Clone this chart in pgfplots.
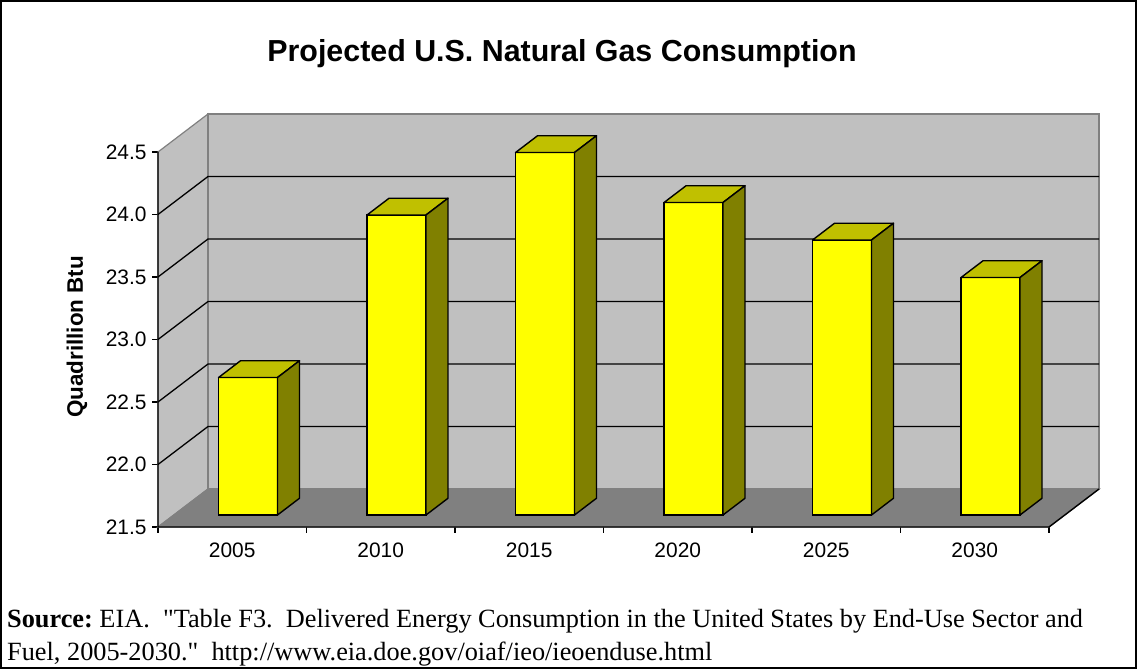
\documentclass[border=0pt]{standalone}
\usepackage{fontspec}
\setmainfont{Liberation Sans}
\newfontfamily\timesf{Liberation Serif}
\usepackage{pgfplots}
\pgfplotsset{compat=1.18}
\definecolor{wallgray}{HTML}{C0C0C0}
\definecolor{floorgray}{HTML}{808080}
\definecolor{edgegray}{HTML}{808080}
\definecolor{barfront}{HTML}{FFFF00}
\definecolor{bartop}{HTML}{C0C000}
\definecolor{barside}{HTML}{808000}
% 3D bar: #1 = category index (0..5), #2 = value
\newcommand\tdbar[2]{%
 \pgfmathsetmacro\xa{#1+0.5-0.1985+0.1063}%
 \pgfmathsetmacro\xb{\xa+0.397}%
 \pgfmathsetmacro\xc{\xb+0.148}%
 \pgfmathsetmacro\xd{\xa+0.148}%
 \pgfmathsetmacro\ya{21.596}%
 \pgfmathsetmacro\yb{#2+0.096}%
 \pgfmathsetmacro\yc{#2+0.096+0.134}%
 \pgfmathsetmacro\ye{21.596+0.134}%
 \edef\doit{%
  \noexpand\addplot[fill=barfront,draw=black,line width=1.4bp] coordinates {(\xa,\ya) (\xb,\ya) (\xb,\yb) (\xa,\yb)} -- cycle;
  \noexpand\addplot[fill=bartop,draw=black,line width=1.4bp,line join=round] coordinates {(\xa,\yb) (\xb,\yb) (\xc,\yc) (\xd,\yc)} -- cycle;
  \noexpand\addplot[fill=barside,draw=black,line width=1.4bp,line join=round] coordinates {(\xb,\ya) (\xc,\ye) (\xc,\yc) (\xb,\yb)} -- cycle;
 }\doit
}
\begin{document}
\begin{tikzpicture}
\useasboundingbox (0,0) rectangle (1137bp,669bp);
\draw[line width=2bp] (1bp,1bp) rectangle (1136bp,668bp);
\begin{axis}[
  at={(158bp,142bp)}, anchor=south west,
  scale only axis, width=941bp, height=413bp,
  xmin=0, xmax=6.3367, ymin=21.5, ymax=24.804,
  clip=false,
  axis line style={draw=none},
  tick pos=left, tick align=outside,
  major tick length=6bp,
  every tick/.style={black, line width=1.2bp},
  xtick={0,1,2,3,4,5,6}, xticklabels={},
  extra x ticks={0.5,1.5,2.5,3.5,4.5,5.5},
  extra x tick labels={2005,2010,2015,2020,2025,2030},
  extra x tick style={major tick length=0pt},
  ytick={21.5,22,22.5,23,23.5,24,24.5},
  yticklabels={21.5,22.0,22.5,23.0,23.5,24.0,24.5},
  ticklabel style={font=\fontsize{21}{21}\selectfont},
  xticklabel style={yshift=-12bp},
  yticklabel style={xshift=-2bp},
]
% left side wall
\addplot[fill=wallgray, draw=edgegray, line width=1.2bp] coordinates {(0,21.5) (0.3367,21.804) (0.3367,24.804) (0,24.5)} -- cycle;
% floor
\addplot[fill=floorgray, draw=edgegray, line width=1.2bp] coordinates {(0,21.5) (6,21.5) (6.3367,21.804) (0.3367,21.804)} -- cycle;
% back wall
\addplot[fill=wallgray, draw=edgegray, line width=1.2bp] coordinates {(0.3367,21.804) (6.3367,21.804) (6.3367,24.804) (0.3367,24.804)} -- cycle;
% gridlines
\addplot[black, line width=1.3bp] coordinates {(0,22.0) (0.3367,22.304) (6.3367,22.304)};
\addplot[black, line width=1.3bp] coordinates {(0,22.5) (0.3367,22.804) (6.3367,22.804)};
\addplot[black, line width=1.3bp] coordinates {(0,23.0) (0.3367,23.304) (6.3367,23.304)};
\addplot[black, line width=1.3bp] coordinates {(0,23.5) (0.3367,23.804) (6.3367,23.804)};
\addplot[black, line width=1.3bp] coordinates {(0,24.0) (0.3367,24.304) (6.3367,24.304)};
% axes lines
\addplot[black, line width=1.4bp] coordinates {(0,24.5) (0,21.5) (6,21.5) (6.3367,21.804)};
% bars
\tdbar{0}{22.6}
\tdbar{1}{23.9}
\tdbar{2}{24.4}
\tdbar{3}{24.0}
\tdbar{4}{23.7}
\tdbar{5}{23.4}
\end{axis}
\node[anchor=base, inner sep=0pt, font=\bfseries\fontsize{30.5}{30.5}\selectfont] at (562bp,607bp) {Projected U.S. Natural Gas Consumption};
\node[font=\bfseries\fontsize{22.5}{22.5}\selectfont, rotate=90] at (77bp,332bp) {Quadrillion Btu};
\node[anchor=base west, inner sep=0pt, font=\timesf\fontsize{26.4}{26.4}\selectfont] at (7bp,41bp) {\textbf{Source:}~EIA.\ \ "Table F3.\ \ Delivered Energy Consumption in the United States by End-Use Sector and};
\node[anchor=base west, inner sep=0pt, font=\timesf\fontsize{26.4}{26.4}\selectfont] at (7bp,9bp) {Fuel, 2005-2030."\ \ http://www.eia.doe.gov/oiaf/ieo/ieoenduse.html};
\end{tikzpicture}
\end{document}
